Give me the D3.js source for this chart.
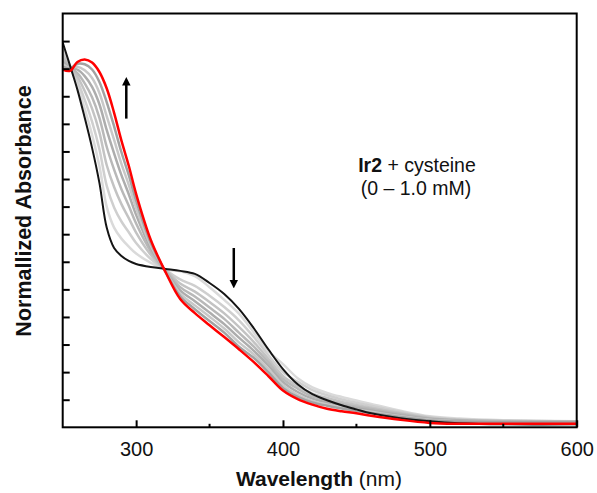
<!DOCTYPE html>
<html>
<head>
<meta charset="utf-8">
<script src="https://cdn.jsdelivr.net/npm/d3@7"></script>
<style>
    body { margin: 0; background: #fff; }
    svg { display: block; font-family: "Liberation Sans", Arial, sans-serif; }
</style>
</head>
<body>
<div id="chart"></div>
<script>
// wavelength grid (nm)
const wavelengths = [250, 255, 260, 265, 270, 275, 280, 285, 290, 295, 300, 310, 320, 330, 340, 350,
    360, 370, 380, 390, 400, 410, 420, 430, 440, 450, 460, 480, 500, 520, 550, 600];

// 0 mM cysteine (black)
const abs0mM = [1.395, 1.311, 1.224, 1.122, 1.013, 0.886, 0.723, 0.650, 0.621, 0.603, 0.592, 0.581, 0.574, 0.567, 0.556, 0.523,
    0.483, 0.429, 0.360, 0.283, 0.211, 0.156, 0.120, 0.098, 0.080, 0.065, 0.051, 0.033, 0.022, 0.015, 0.011, 0.011];

// intermediate additions (grey)
const absStep1 = [1.380, 1.309, 1.240, 1.154, 1.060, 0.947, 0.799, 0.724, 0.684, 0.655, 0.630, 0.596, 0.572, 0.566, 0.548, 0.508,
    0.462, 0.412, 0.345, 0.276, 0.229, 0.178, 0.145, 0.125, 0.110, 0.097, 0.085, 0.060, 0.040, 0.032, 0.026, 0.022];
const absStep2 = [1.366, 1.308, 1.255, 1.187, 1.108, 1.008, 0.875, 0.797, 0.746, 0.707, 0.668, 0.610, 0.571, 0.536, 0.513, 0.477,
    0.436, 0.388, 0.328, 0.262, 0.200, 0.165, 0.135, 0.116, 0.101, 0.089, 0.078, 0.056, 0.037, 0.028, 0.024, 0.021];
const absStep3 = [1.351, 1.306, 1.271, 1.219, 1.155, 1.069, 0.950, 0.871, 0.809, 0.758, 0.706, 0.625, 0.569, 0.521, 0.492, 0.454,
    0.413, 0.364, 0.310, 0.248, 0.186, 0.150, 0.122, 0.106, 0.092, 0.081, 0.071, 0.052, 0.034, 0.027, 0.023, 0.021];
const absStep4 = [1.338, 1.305, 1.284, 1.247, 1.196, 1.122, 1.016, 0.934, 0.863, 0.803, 0.739, 0.638, 0.568, 0.508, 0.474, 0.434,
    0.393, 0.343, 0.293, 0.236, 0.175, 0.140, 0.112, 0.097, 0.085, 0.075, 0.066, 0.048, 0.032, 0.026, 0.022, 0.020];
const absStep5 = [1.326, 1.303, 1.297, 1.273, 1.234, 1.171, 1.077, 0.993, 0.914, 0.845, 0.770, 0.650, 0.566, 0.496, 0.457, 0.416,
    0.374, 0.325, 0.278, 0.224, 0.164, 0.128, 0.104, 0.090, 0.079, 0.069, 0.061, 0.044, 0.030, 0.024, 0.021, 0.020];
const absStep6 = [1.317, 1.302, 1.307, 1.294, 1.266, 1.212, 1.127, 1.042, 0.955, 0.879, 0.795, 0.659, 0.565, 0.485, 0.442, 0.401,
    0.358, 0.308, 0.265, 0.212, 0.153, 0.118, 0.096, 0.083, 0.073, 0.064, 0.056, 0.040, 0.027, 0.022, 0.020, 0.019];
const absStep7 = [1.307, 1.301, 1.318, 1.316, 1.297, 1.252, 1.178, 1.091, 0.997, 0.914, 0.821, 0.669, 0.564, 0.475, 0.428, 0.385,
    0.343, 0.292, 0.252, 0.200, 0.143, 0.110, 0.090, 0.078, 0.068, 0.060, 0.052, 0.037, 0.025, 0.021, 0.019, 0.018];

// 1.0 mM cysteine (red)
const abs1mM = [1.297, 1.292, 1.324, 1.333, 1.322, 1.288, 1.228, 1.140, 1.039, 0.948, 0.846, 0.679, 0.563, 0.465, 0.414, 0.370,
    0.327, 0.283, 0.237, 0.186, 0.133, 0.102, 0.082, 0.067, 0.058, 0.051, 0.042, 0.027, 0.016, 0.013, 0.013, 0.013];

const greySeries = [absStep1, absStep2, absStep3, absStep4, absStep5, absStep6, absStep7];
const greyColors = ["#dadada", "#cfcfcf", "#c3c3c3", "#b8b8b8", "#adadad", "#c8c8c8", "#a2a2a2"];

const xTickLabels = [300, 400, 500, 600];
const xMinorTicks = [350, 450, 550];
const yTicks = [0.1, 0.2, 0.3, 0.4, 0.5, 0.6, 0.7, 0.8, 0.9, 1.0, 1.1, 1.2, 1.3, 1.4];

const w = 597;
const h = 493;
const plotLeft = 62.7, plotRight = 576.7, plotTop = 13.5, plotBottom = 427.3;

const svg = d3.select("#chart")
    .append("svg")
    .attr("width", w)
    .attr("height", h);

const xScale = d3.scaleLinear().domain([250, 600]).range([plotLeft, plotRight]);
const yScale = d3.scaleLinear().domain([0, 1.5]).range([plotBottom, plotTop]);

const defs = svg.append("defs");

defs.append("clipPath").attr("id", "plot-clip")
    .append("rect")
    .attr("x", plotLeft).attr("y", plotTop)
    .attr("width", plotRight - plotLeft).attr("height", plotBottom - plotTop);

const line = d3.line()
    .x((d, i) => xScale(wavelengths[i]))
    .y(d => yScale(d))
    .curve(d3.curveCatmullRom.alpha(0.5));

const plot = svg.append("g").attr("clip-path", "url(#plot-clip)");

plot.selectAll("path.grey")
    .data(greySeries)
    .enter()
    .append("path")
    .attr("class", "grey")
    .attr("d", d => line(d))
    .attr("fill", "none")
    .attr("stroke", (d, i) => greyColors[i])
    .attr("stroke-width", 2.5);

plot.append("path")
    .attr("d", line(abs0mM))
    .attr("fill", "none")
    .attr("stroke", "#151515")
    .attr("stroke-width", 2);

plot.append("path")
    .attr("d", line(abs1mM))
    .attr("fill", "none")
    .attr("stroke", "#ff0000")
    .attr("stroke-width", 2.5);

// axes (ticks point inward)
const xAxis = d3.axisBottom(xScale)
    .tickValues(xTickLabels)
    .tickSize(-7)
    .tickPadding(15)
    .tickFormat(d3.format("d"));

const gx = svg.append("g")
    .attr("transform", `translate(0,${plotBottom})`)
    .call(xAxis);

gx.selectAll(".tick line").attr("stroke-width", 2);
gx.selectAll(".tick text")
    .attr("font-size", 20)
    .attr("font-family", "Liberation Sans, Arial, sans-serif")
    .attr("fill", "#111");
gx.select(".domain").remove();

svg.append("g")
    .selectAll("line")
    .data(xMinorTicks)
    .enter()
    .append("line")
    .attr("x1", d => xScale(d)).attr("x2", d => xScale(d))
    .attr("y1", plotBottom).attr("y2", plotBottom - 3.5)
    .attr("stroke", "#000")
    .attr("stroke-width", 2);

const yAxis = d3.axisLeft(yScale)
    .tickValues(yTicks)
    .tickSize(-7)
    .tickFormat("");

const gy = svg.append("g")
    .attr("transform", `translate(${plotLeft},0)`)
    .call(yAxis);
gy.selectAll(".tick line").attr("stroke-width", 2);
gy.select(".domain").remove();

// frame
svg.append("rect")
    .attr("x", plotLeft).attr("y", plotTop)
    .attr("width", plotRight - plotLeft).attr("height", plotBottom - plotTop)
    .attr("fill", "none")
    .attr("stroke", "#000")
    .attr("stroke-width", 2);

// arrows
defs.append("marker")
    .attr("id", "head")
    .attr("viewBox", "0 0 10 10")
    .attr("refX", 2).attr("refY", 5)
    .attr("markerWidth", 3.4).attr("markerHeight", 3.6)
    .attr("orient", "auto")
    .append("path")
    .attr("d", "M0,0 L10,5 L0,10 Z")
    .attr("fill", "#000");

const arrows = [
    { wl: 293.3, from: 1.119, to: 1.245 },
    { wl: 366.5, from: 0.650, to: 0.528 }
];

svg.selectAll("line.arrow")
    .data(arrows)
    .enter()
    .append("line")
    .attr("class", "arrow")
    .attr("x1", d => xScale(d.wl)).attr("x2", d => xScale(d.wl))
    .attr("y1", d => yScale(d.from)).attr("y2", d => yScale(d.to))
    .attr("stroke", "#000")
    .attr("stroke-width", 2.5)
    .attr("marker-end", "url(#head)");

// annotation
const note = svg.append("text")
    .attr("x", 417)
    .attr("y", 172)
    .attr("text-anchor", "middle")
    .attr("font-size", 19.5)
    .attr("fill", "#111");
note.append("tspan").attr("font-weight", "bold").text("Ir2");
note.append("tspan").text(" + cysteine");

svg.append("text")
    .attr("x", 416)
    .attr("y", 195)
    .attr("text-anchor", "middle")
    .attr("font-size", 19.5)
    .attr("fill", "#111")
    .text("(0 \u2013 1.0 mM)");

// axis titles
const xTitle = svg.append("text")
    .attr("x", 319)
    .attr("y", 486)
    .attr("text-anchor", "middle")
    .attr("font-size", 21)
    .attr("fill", "#111");
xTitle.append("tspan").attr("font-weight", "bold").text("Wavelength");
xTitle.append("tspan").text(" (nm)");

svg.append("text")
    .attr("transform", "translate(31,211) rotate(-90)")
    .attr("text-anchor", "middle")
    .attr("font-size", 21.5)
    .attr("font-weight", "bold")
    .attr("fill", "#111")
    .text("Normallized Absorbance");
</script>
</body>
</html>
